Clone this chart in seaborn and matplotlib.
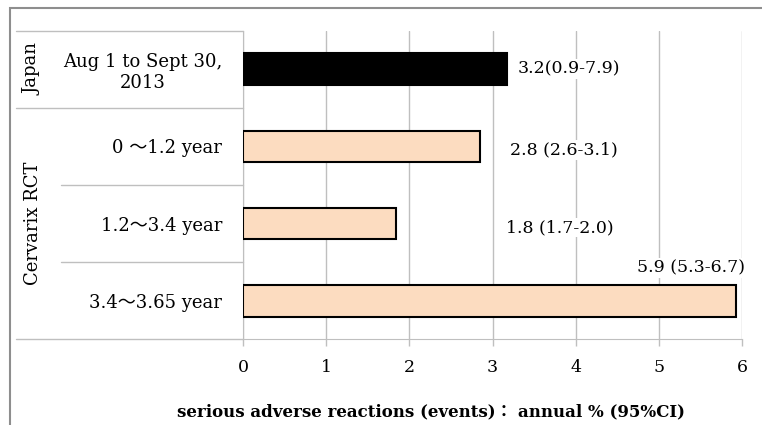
import matplotlib
matplotlib.use('Agg')
import matplotlib.pyplot as plt
import matplotlib.transforms as mtransforms
from matplotlib.patches import Rectangle
import seaborn as sns

# data
periods = ['Aug 1 to Sept 30,\n2013', '0 ～1.2 year', '1.2～3.4 year', '3.4～3.65 year']
rates = [3.17, 2.85, 1.84, 5.93]
value_labels = ['3.2(0.9-7.9)', '2.8 (2.6-3.1)', '1.8 (1.7-2.0)', '5.9 (5.3-6.7)']
groups = ['Japan', 'Cervarix RCT']
bar_colors = ['#000000', '#FCDCC0', '#FCDCC0', '#FCDCC0']
x_ticks = [0, 1, 2, 3, 4, 5, 6]

sns.set_style('white')
plt.rcParams['font.family'] = ['DejaVu Serif', 'Noto Sans CJK JP']
plt.rcParams['text.color'] = 'black'
plt.rcParams['xtick.labelcolor'] = 'black'
plt.rcParams['ytick.labelcolor'] = 'black'

W, H = 762, 425
fig = plt.figure(figsize=(W / 100, H / 100), dpi=100)
ax = fig.add_axes([243 / W, 1 - 339.3 / H, (742 - 243) / W, (339.3 - 30.7) / H])

sns.barplot(x=rates, y=periods, hue=periods, palette=bar_colors, legend=False,
            orient='h', width=0.41, saturation=1, edgecolor='black',
            linewidth=1.5, ax=ax, zorder=3)

grid_c = '#BFBFBF'
ax.set_xlim(0, 6)
ax.set_ylim(3.5, -0.5)
ax.set_xticks(x_ticks)
ax.set_xticklabels([str(t) for t in x_ticks], fontsize=12.5)
ax.xaxis.grid(True, color=grid_c, linewidth=1)
ax.set_axisbelow(True)
ax.tick_params(axis='x', length=5, color=grid_c, width=1, pad=9, bottom=True)
ax.tick_params(axis='y', length=0, pad=15, labelsize=13)
for lab in ax.get_yticklabels():
    lab.set_multialignment('center')
for side in ['top', 'right']:
    ax.spines[side].set_visible(False)
ax.spines['left'].set_color(grid_c)
ax.spines['bottom'].set_color(grid_c)
ax.set_xlabel('')
ax.set_ylabel('')

# value labels (placed as in the original)
label_pos = [(3.30, 0.0), (3.21, 1.05), (3.16, 2.05), (4.74, 2.58)]
for (lx, ly), txt in zip(label_pos, value_labels):
    ax.text(lx, ly, txt, fontsize=12.5, va='center', ha='left', zorder=4,
            bbox=dict(facecolor='white', edgecolor='none', pad=1))

# table lines on the left
tr = mtransforms.blended_transform_factory(fig.transFigure, ax.transData)
for yb, x0 in [(-0.5, 16), (0.5, 16), (1.5, 61), (2.5, 61), (3.5, 16)]:
    ax.plot([x0 / W, 243 / W], [yb, yb], transform=tr, color=grid_c,
            linewidth=1, clip_on=False)

ax.text(33 / W, 0.0, groups[0], transform=tr, rotation=90, fontsize=13,
        ha='center', va='center')
ax.text(33 / W, 2.0, groups[1], transform=tr, rotation=90, fontsize=13,
        ha='center', va='center')

fig.text(431 / W, 1 - 411.7 / H,
         'serious adverse reactions (events)： annual % (95%CI)',
         fontsize=12, fontweight='bold', ha='center', va='center')

# outer frame
fig.add_artist(Rectangle((9.5 / W, -0.1), 1.2, 1 - 8.5 / H + 0.1,
                         transform=fig.transFigure, fill=False,
                         edgecolor='#8E8E8E', linewidth=1.5, clip_on=False))

fig.savefig('out.png', dpi=100)
